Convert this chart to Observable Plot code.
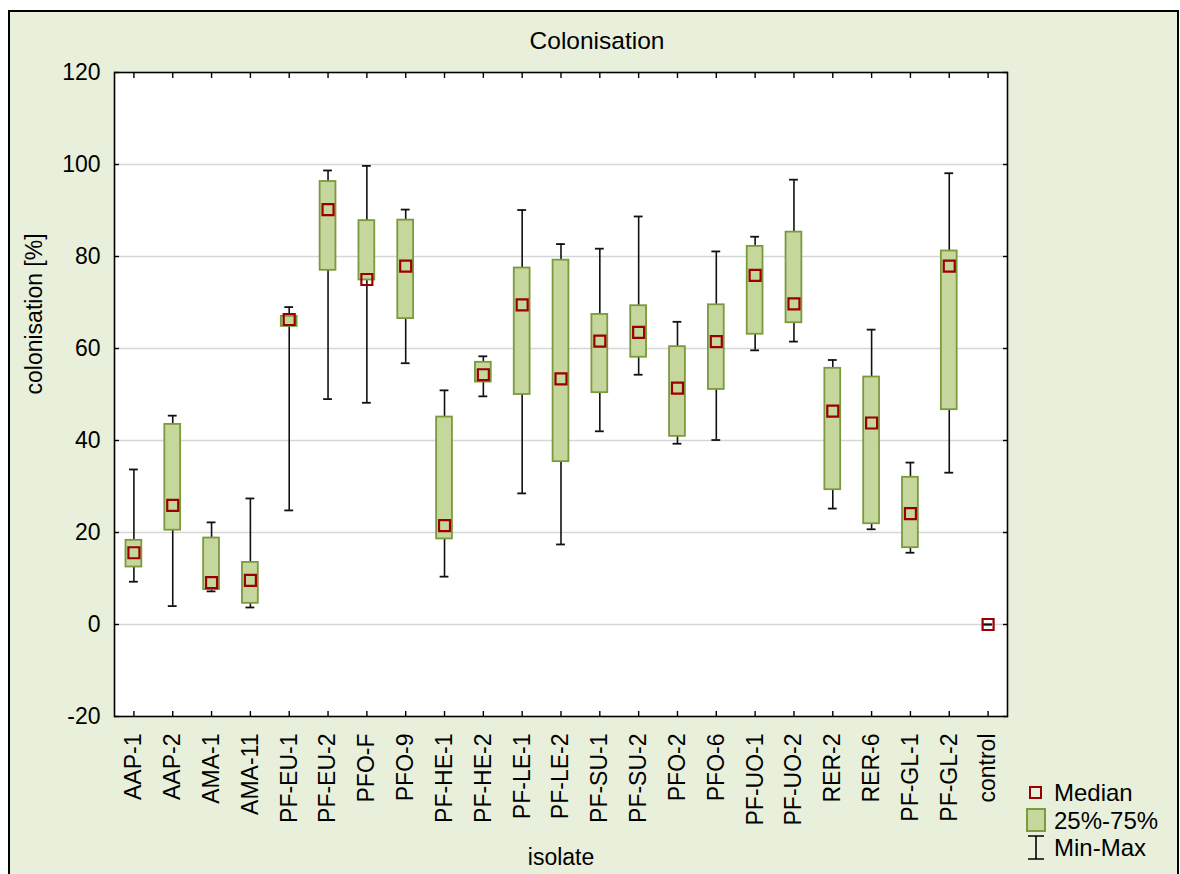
<!DOCTYPE html>
<html>
<head>
<meta charset="utf-8">
<script src="https://cdn.jsdelivr.net/npm/d3@7"></script>
<script src="https://cdn.jsdelivr.net/npm/@observablehq/plot@0.6"></script>
<style>
  html, body { margin: 0; padding: 0; background: #ffffff; }
  body { position: relative; width: 1180px; height: 874px; overflow: hidden; font-family: "Liberation Sans", Arial, sans-serif; }
  #panel { position: absolute; left: 8px; top: 10px; width: 1167px; height: 880px; border: 2px solid #000; background: #e8f0dc; }
  #chart { position: absolute; left: 0; top: 0; }
  #legend { position: absolute; left: 1024px; top: 779px; font-size: 24px; color: #000; line-height: 27px; }
  .item { display: flex; align-items: center; height: 27.5px; white-space: nowrap; }
  .item svg { margin-right: 7px; flex: none; }
</style>
</head>
<body>
<div id="panel"></div>
<div id="chart"></div>
<div id="legend">
  <div class="item"><svg width="23" height="25"><rect x="6" y="7" width="11" height="11" fill="none" stroke="#9b0000" stroke-width="2"/></svg><span>Median</span></div>
  <div class="item"><svg width="23" height="25"><rect x="3" y="1" width="18" height="22" fill="#c5d79d" stroke="#7a9a3c" stroke-width="2"/></svg><span>25%-75%</span></div>
  <div class="item"><svg width="23" height="25"><path d="M4,1H20M12,1V24M4,24H20" fill="none" stroke="#000" stroke-width="1.6"/></svg><span>Min-Max</span></div>
</div>
<script>
const categories = ["AAP-1","AAP-2","AMA-1","AMA-11","PF-EU-1","PF-EU-2","PFO-F","PFO-9","PF-HE-1","PF-HE-2","PF-LE-1","PF-LE-2","PF-SU-1","PF-SU-2","PFO-2","PFO-6","PF-UO-1","PF-UO-2","RER-2","RER-6","PF-GL-1","PF-GL-2","control"];
const mins    = [9.3, 4.0, 7.2, 3.7, 24.8, 49.0, 48.2, 56.8, 10.4, 49.6, 28.5, 17.4, 42.0, 54.3, 39.3, 40.1, 59.6, 61.5, 25.2, 20.7, 15.6, 33.0, 0];
const q1s     = [12.5, 20.5, 7.6, 4.6, 64.8, 77.0, 74.9, 66.5, 18.6, 52.7, 50.0, 35.4, 50.4, 58.1, 40.9, 51.1, 63.1, 65.6, 29.3, 21.9, 16.7, 46.7, 0];
const medians = [15.6, 25.9, 9.1, 9.6, 66.3, 90.2, 75.0, 77.9, 21.5, 54.3, 69.5, 53.4, 61.6, 63.5, 51.4, 61.5, 75.9, 69.7, 46.4, 43.8, 24.1, 77.9, 0];
const q3s     = [18.3, 43.5, 18.8, 13.5, 67.0, 96.3, 87.8, 87.9, 45.1, 57.0, 77.5, 79.2, 67.4, 69.3, 60.4, 69.5, 82.2, 85.3, 55.7, 53.8, 32.0, 81.2, 0];
const maxs    = [33.7, 45.4, 22.2, 27.4, 69.0, 98.7, 99.7, 90.2, 50.9, 58.3, 90.1, 82.7, 81.7, 88.7, 65.8, 81.1, 84.3, 96.7, 57.5, 64.1, 35.2, 98.1, 0];
const yTicks = [-20, 0, 20, 40, 60, 80, 100, 120];
const gridTicks = [0, 20, 40, 60, 80, 100];
const title = "Colonisation";
const xLabel = "isolate";
const yLabel = "colonisation [%]";

const data = categories.map((c, i) => ({cat: c, min: mins[i], q1: q1s[i], med: medians[i], q3: q3s[i], max: maxs[i]}));

const boxFill = "#c5d79d", boxStroke = "#7a9a3c", medStroke = "#9b0000";

const plot = Plot.plot({
  width: 1180,
  height: 874,
  marginLeft: 114,
  marginRight: 173,
  marginTop: 72,
  marginBottom: 158,
  style: {background: "transparent", fontFamily: "'Liberation Sans', Arial, sans-serif", fontSize: "23px", color: "#000"},
  x: {type: "band", domain: categories, paddingInner: 0, paddingOuter: 0, align: 0.5, round: false, label: null},
  y: {domain: [-20, 120], label: null},
  marks: [
    Plot.frame({fill: "#ffffff", stroke: null}),
    Plot.gridY(gridTicks, {stroke: "#d6d6d6", strokeOpacity: 1, strokeWidth: 1.3}),
    Plot.ruleX(data, {x: "cat", y1: "min", y2: "max", stroke: "#111", strokeWidth: 1.6}),
    Plot.tickY(data, {x: "cat", y: "max", stroke: "#111", strokeWidth: 1.8, inset: 15}),
    Plot.tickY(data, {x: "cat", y: "min", stroke: "#111", strokeWidth: 1.8, inset: 15}),
    Plot.barY(data, {x: "cat", y1: "q1", y2: "q3", fill: boxFill, stroke: boxStroke, strokeWidth: 1.8, insetLeft: 11.5, insetRight: 11.5, insetTop: 0, insetBottom: 0}),
    Plot.dot(data, {x: "cat", y: "med", symbol: "square", r: 6.2, stroke: medStroke, strokeWidth: 2.2, fill: "none"}),
    Plot.frame({stroke: "#000", strokeWidth: 1.6}),
    Plot.axisY(yTicks, {anchor: "left", tickSize: -5, tickPadding: 19, tickFormat: d => String(d), label: null, stroke: "#000", strokeWidth: 1.4}),
    Plot.axisY(yTicks, {anchor: "right", tickSize: -5, tickFormat: () => "", label: null, stroke: "#000", strokeWidth: 1.4}),
    Plot.axisX({anchor: "bottom", tickSize: -5, tickPadding: 22, tickRotate: -90, label: null, stroke: "#000", strokeWidth: 1.4}),
    Plot.axisX({anchor: "top", tickSize: -5, tickFormat: () => "", label: null, stroke: "#000", strokeWidth: 1.4}),
    Plot.text([title], {frameAnchor: "top", dy: -31, dx: 36, lineAnchor: "middle", fontSize: 24.5}),
    Plot.text([xLabel], {frameAnchor: "bottom", dy: 141, lineAnchor: "middle", fontSize: 23}),
    Plot.text([yLabel], {frameAnchor: "left", dx: -80, rotate: -90, lineAnchor: "middle", fontSize: 23})
  ]
});
document.getElementById("chart").appendChild(plot);
</script>
</body>
</html>
